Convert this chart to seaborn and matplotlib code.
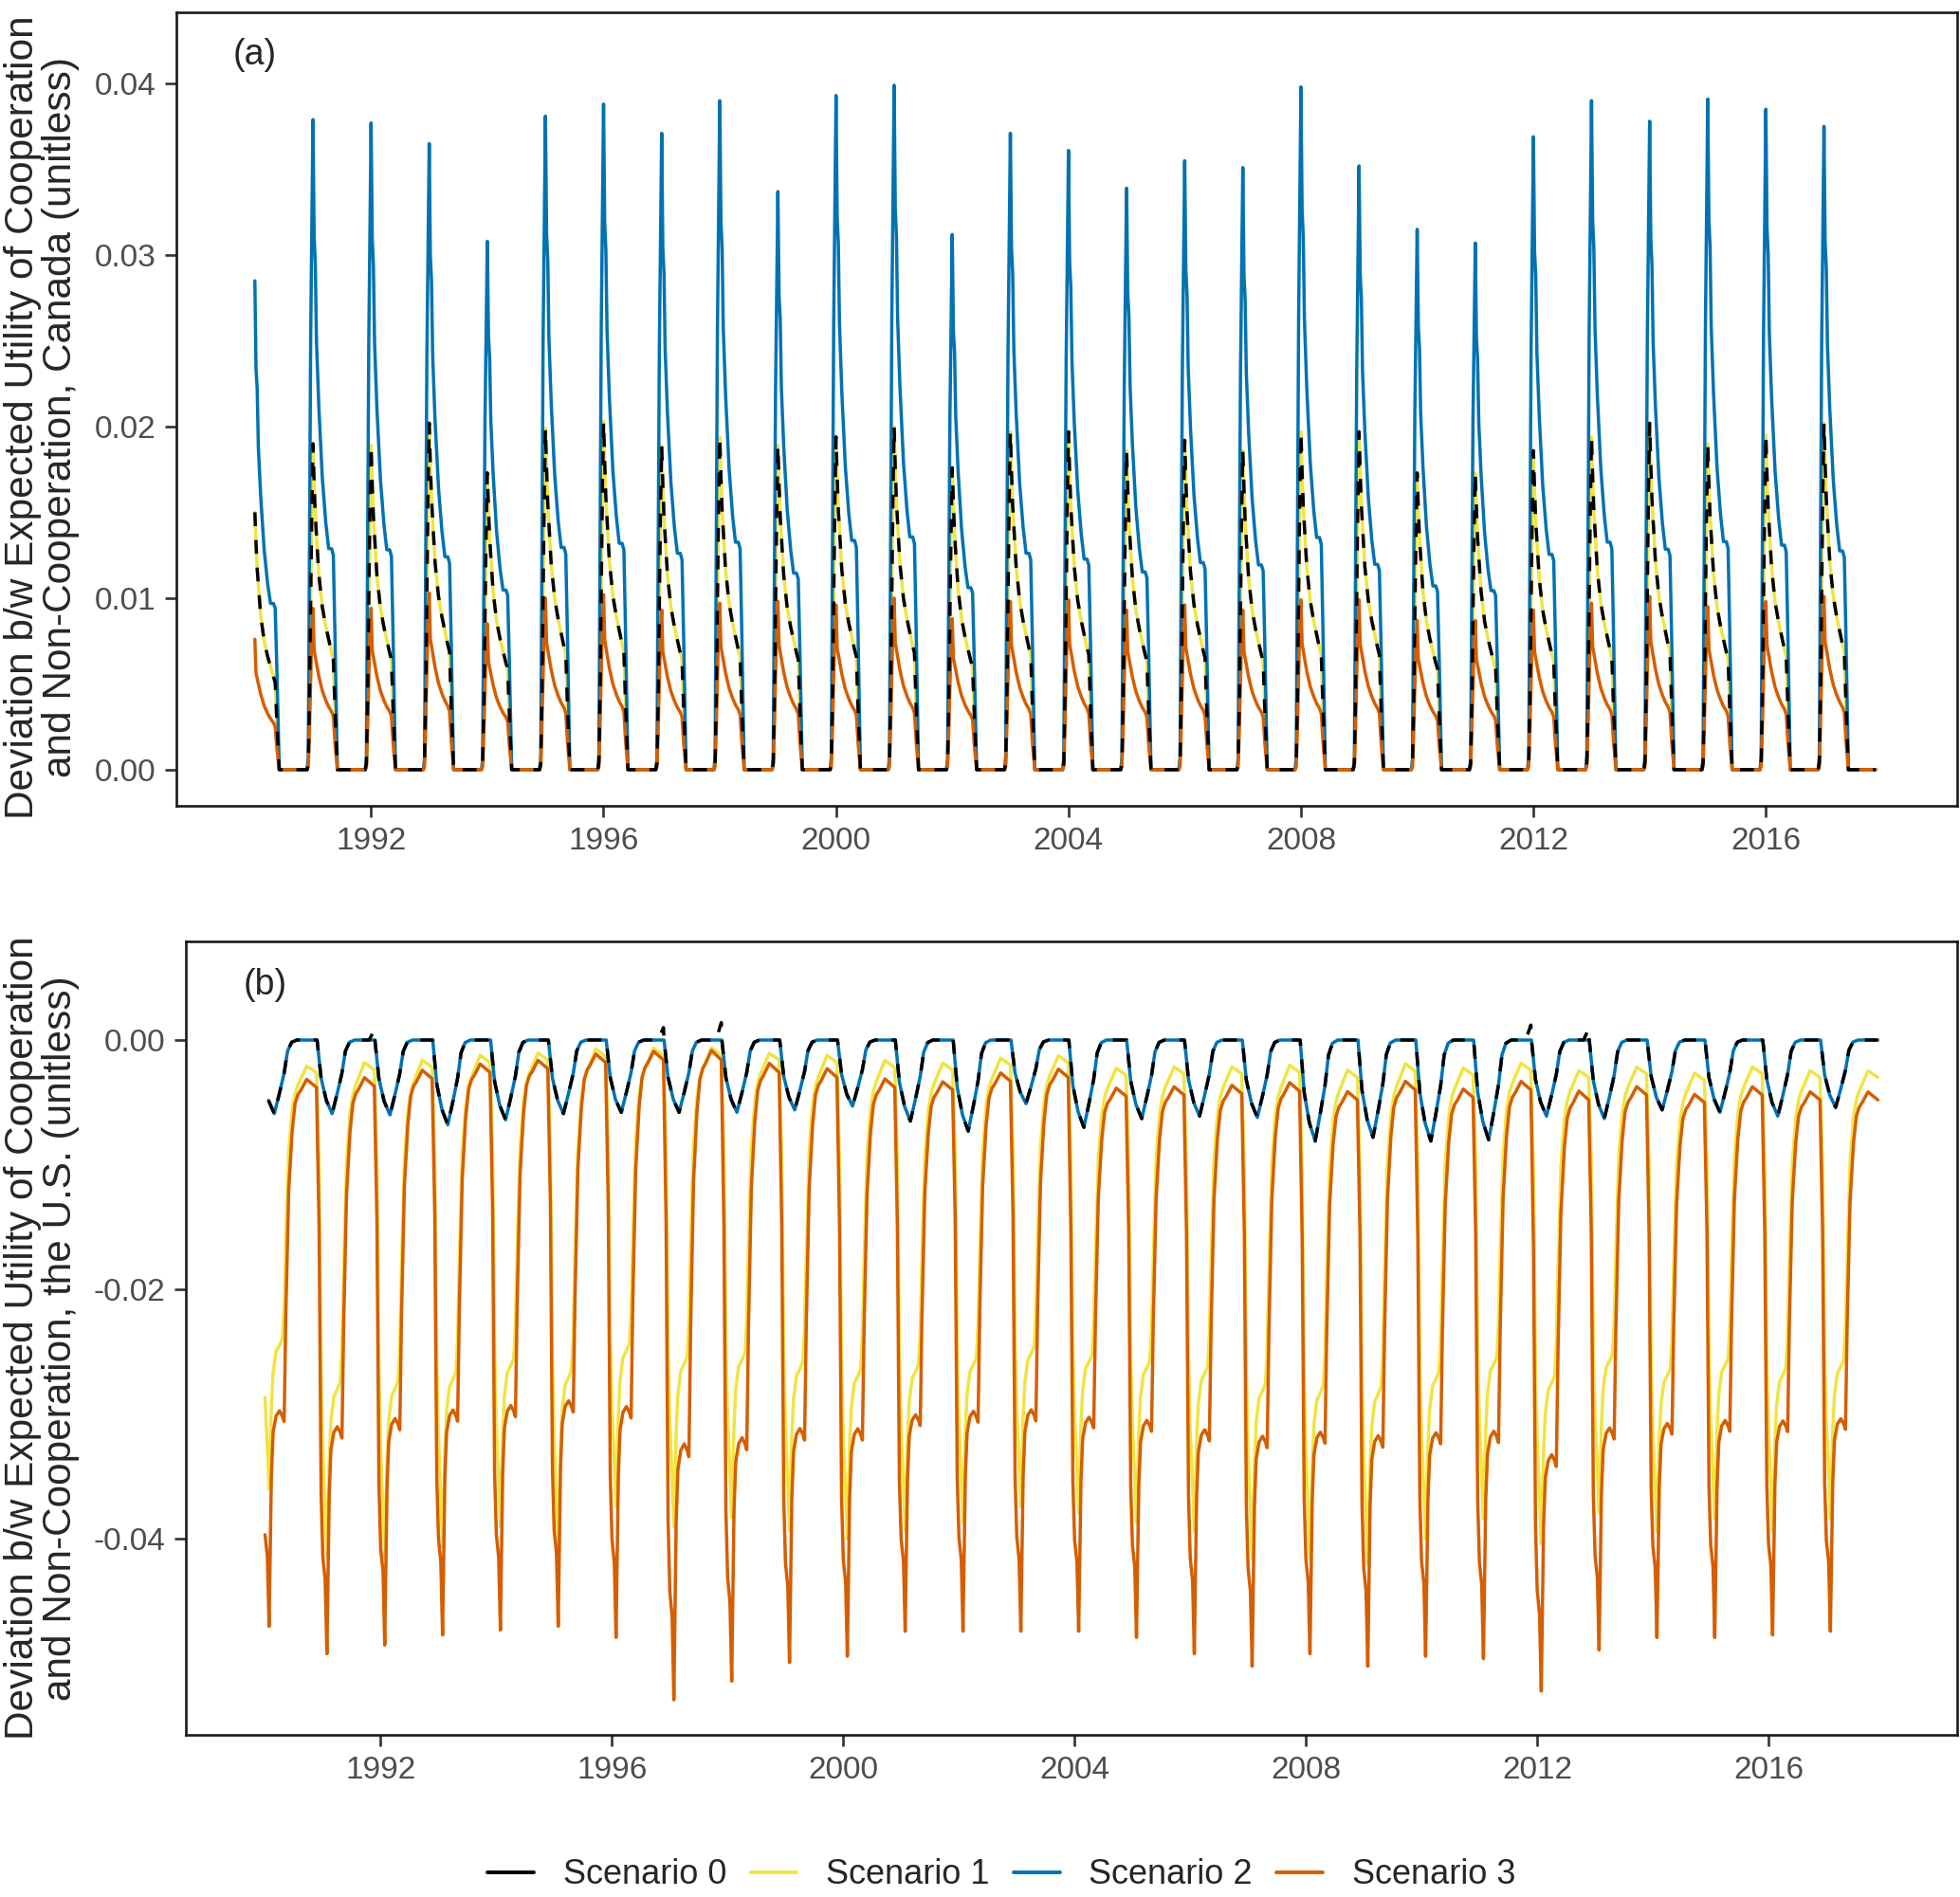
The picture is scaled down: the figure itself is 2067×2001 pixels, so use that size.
import pandas as pd
import seaborn as sns
import matplotlib.pyplot as plt
from matplotlib.lines import Line2D

# ---- data ----
years = list(range(1990, 2018))
t_start = 1990.0

# (a) Canada: height of the January spike in each year
can_peak_s2 = [0.0285, 0.0379, 0.0377, 0.0365, 0.0308, 0.0381, 0.0388, 0.0371, 0.0390, 0.0337,
               0.0393, 0.0399, 0.0312, 0.0371, 0.0361, 0.0339, 0.0355, 0.0351, 0.0398, 0.0352,
               0.0315, 0.0307, 0.0369, 0.0390, 0.0378, 0.0391, 0.0385, 0.0375]
can_peak_s1 = [0.0150, 0.0190, 0.0189, 0.0202, 0.0173, 0.0199, 0.0203, 0.0189, 0.0194, 0.0189,
               0.0194, 0.0200, 0.0176, 0.0197, 0.0197, 0.0186, 0.0192, 0.0186, 0.0197, 0.0197,
               0.0173, 0.0173, 0.0186, 0.0194, 0.0202, 0.0190, 0.0195, 0.0202]
can_peak_s0 = list(can_peak_s1)  # scenario 0 sits on top of scenario 1 here
can_peak_s3 = [0.0076, 0.0094, 0.0094, 0.0103, 0.0085, 0.0100, 0.0102, 0.0093, 0.0097, 0.0098,
               0.0096, 0.0100, 0.0088, 0.0098, 0.0099, 0.0093, 0.0096, 0.0093, 0.0099, 0.0099,
               0.0087, 0.0087, 0.0093, 0.0097, 0.0101, 0.0095, 0.0098, 0.0101]

# shape of one season (offset in years from 1 Jan, fraction of the peak)
can_off = [-0.10, -0.08, -0.06, -0.04, -0.02, 0.00, 0.02, 0.04, 0.06, 0.10, 0.16, 0.22,
           0.27, 0.32, 0.35, 0.38, 0.42, 0.89]
can_shape_s2 = [0, 0.02, 0.33, 0.66, 0.83, 1.0, 0.82, 0.78, 0.66, 0.56, 0.45, 0.38,
                0.34, 0.34, 0.33, 0.20, 0, 0]
can_shape_s1 = [0, 0.02, 0.22, 0.50, 0.80, 1.0, 0.88, 0.78, 0.72, 0.60, 0.50, 0.44,
                0.40, 0.36, 0.34, 0.18, 0, 0]
can_shape_s3 = [0, 0.02, 0.25, 0.55, 0.85, 1.0, 0.74, 0.70, 0.66, 0.58, 0.49, 0.43,
                0.39, 0.36, 0.33, 0.16, 0, 0]

# (b) the U.S.: winter dip of scenario 2 (scenario 0 follows it, plus small bumps)
usa_depth_s2 = [-0.0059, -0.0059, -0.0060, -0.0068, -0.0064, -0.0059, -0.0058, -0.0058, -0.0058, -0.0056,
                -0.0053, -0.0065, -0.0073, -0.0051, -0.0070, -0.0063, -0.0061, -0.0062, -0.0081, -0.0078,
                -0.0081, -0.0080, -0.0061, -0.0063, -0.0056, -0.0058, -0.0061, -0.0054]
usa_bump_s0 = [0, 0.0008, 0, 0, 0, 0, 0.0010, 0.0014, 0, 0,
               0, 0, 0, 0, 0, 0, 0, 0, 0, 0,
               0, 0.0012, 0.0009, 0, 0, 0, 0, 0]
usa_off_dip = [-0.10, -0.03, 0.06, 0.16, 0.25, 0.33, 0.39, 0.46, 0.55, 0.80, 0.89]
usa_shape_dip = [0, 0.52, 0.82, 1.0, 0.72, 0.45, 0.15, 0.03, 0, 0, 0]

# scenarios 1 and 3: summer plateau and winter trough of each year
usa_plateau_s1 = [-0.0026, -0.0024, -0.0022, -0.0018, -0.0016, -0.0013, -0.0012, -0.0012, -0.0016, -0.0018,
                  -0.0022, -0.0024, -0.0020, -0.0018, -0.0028, -0.0027, -0.0027, -0.0026, -0.0030, -0.0025,
                  -0.0028, -0.0024, -0.0030, -0.0027, -0.0032, -0.0027, -0.0030, -0.0030]
usa_trough_s1 = [-0.0360, -0.0415, -0.0415, -0.0406, -0.0390, -0.0406, -0.0374, -0.0390, -0.0383, -0.0393,
                 -0.0400, -0.0393, -0.0387, -0.0374, -0.0379, -0.0387, -0.0394, -0.0416, -0.0416, -0.0420,
                 -0.0400, -0.0384, -0.0404, -0.0379, -0.0394, -0.0384, -0.0394, -0.0384]
usa_plateau_s3 = [-0.0038, -0.0037, -0.0031, -0.0026, -0.0023, -0.0018, -0.0016, -0.0016, -0.0026, -0.0030,
                  -0.0038, -0.0040, -0.0033, -0.0030, -0.0045, -0.0044, -0.0043, -0.0041, -0.0048, -0.0040,
                  -0.0046, -0.0040, -0.0048, -0.0044, -0.0050, -0.0044, -0.0048, -0.0048]
usa_trough_s3 = [-0.0470, -0.0492, -0.0485, -0.0477, -0.0473, -0.0470, -0.0479, -0.0529, -0.0514, -0.0499,
                 -0.0494, -0.0474, -0.0474, -0.0474, -0.0474, -0.0479, -0.0492, -0.0502, -0.0492, -0.0502,
                 -0.0494, -0.0496, -0.0522, -0.0489, -0.0479, -0.0479, -0.0477, -0.0474]
usa_off_drop = [-0.065, -0.03, 0.00, 0.04, 0.07, 0.11, 0.14, 0.19, 0.25, 0.30,
                0.33, 0.36, 0.41, 0.47, 0.52, 0.57, 0.62, 0.72, 0.89]
usa_shape_s1 = [0.20, 0.62, 0.78, 0.90, 1.0, 0.80, 0.72, 0.67, 0.655, 0.64,
                0.57, 0.41, 0.19, 0.09, 0.05, 0.03, 0.015, -0.015, 0.0]
usa_shape_s3 = [0.25, 0.72, 0.83, 0.87, 1.0, 0.72, 0.64, 0.61, 0.60, 0.61,
                0.62, 0.42, 0.19, 0.08, 0.03, 0.013, 0.005, -0.015, 0.0]

scenarios = ["Scenario 0", "Scenario 1", "Scenario 2", "Scenario 3"]
colors = {"Scenario 0": "#000000", "Scenario 1": "#F0E442",
          "Scenario 2": "#0072B2", "Scenario 3": "#D55E00"}
draw_order = ["Scenario 1", "Scenario 2", "Scenario 3", "Scenario 0"]


def season_rows(offsets, shape, low, high=None, extra_last=None):
    rows = []
    for i, yr in enumerate(years):
        for j, (off, s) in enumerate(zip(offsets, shape)):
            t = yr + off
            if t < t_start:
                continue
            if high is None:
                v = low[i] * s
            else:
                v = low[i] + s * (high[i] - low[i])
            if extra_last is not None and j == len(offsets) - 1:
                v += extra_last[i]
            rows.append((t, v))
    return rows


def frame(panel, scen, rows):
    d = pd.DataFrame(rows, columns=["t", "value"])
    d["panel"] = panel
    d["scenario"] = scen
    return d


df = pd.concat([
    frame("a", "Scenario 0", season_rows(can_off, can_shape_s1, can_peak_s0)),
    frame("a", "Scenario 1", season_rows(can_off, can_shape_s1, can_peak_s1)),
    frame("a", "Scenario 2", season_rows(can_off, can_shape_s2, can_peak_s2)),
    frame("a", "Scenario 3", season_rows(can_off, can_shape_s3, can_peak_s3)),
    frame("b", "Scenario 0", season_rows(usa_off_dip, usa_shape_dip, usa_depth_s2, extra_last=usa_bump_s0)),
    frame("b", "Scenario 1", season_rows(usa_off_drop, usa_shape_s1, usa_plateau_s1, usa_trough_s1)),
    frame("b", "Scenario 2", season_rows(usa_off_dip, usa_shape_dip, usa_depth_s2)),
    frame("b", "Scenario 3", season_rows(usa_off_drop, usa_shape_s3, usa_plateau_s3, usa_trough_s3)),
], ignore_index=True)

# ---- style ----
sns.set_theme(style="ticks")
plt.rcParams["font.family"] = ["Liberation Sans", "DejaVu Sans"]
plt.rcParams["axes.unicode_minus"] = False

fig = plt.figure(figsize=(20.67, 20.01), dpi=100)
ax_a = fig.add_axes([0.0900, 0.5752, 0.9085, 0.4183])
ax_b = fig.add_axes([0.0948, 0.0855, 0.9037, 0.4182])

LW = 2.5
for ax, panel in [(ax_a, "a"), (ax_b, "b")]:
    for scen in draw_order:
        sub = df[(df["panel"] == panel) & (df["scenario"] == scen)]
        kw = {"linestyle": (0, (4.2, 4.2))} if scen == "Scenario 0" else {}
        sns.lineplot(data=sub, x="t", y="value", color=colors[scen], linewidth=LW,
                     estimator=None, sort=False, legend=False, ax=ax, **kw)
    ax.set_xlabel("")
    ax.set_ylabel("")
    ax.set_xticks([1992, 1996, 2000, 2004, 2008, 2012, 2016])
    ax.set_xticklabels(["1992", "1996", "2000", "2004", "2008", "2012", "2016"])
    ax.tick_params(axis="both", labelsize=24, labelcolor="#4D4D4D", color="#333333",
                   length=8.4, width=1.9, pad=7.2, direction="out")
    for sp in ax.spines.values():
        sp.set_visible(True)
        sp.set_color("#1A1A1A")
        sp.set_linewidth(1.9)
    ax.grid(False)

ax_a.set_xlim(1988.65, 2019.29)
ax_a.set_ylim(-0.00211, 0.04415)
ax_a.set_yticks([0.0, 0.01, 0.02, 0.03, 0.04])
ax_a.set_yticklabels(["0.00", "0.01", "0.02", "0.03", "0.04"])

ax_b.set_xlim(1988.63, 2019.26)
ax_b.set_ylim(-0.0557, 0.0079)
ax_b.set_yticks([-0.04, -0.02, 0.0])
ax_b.set_yticklabels(["-0.04", "-0.02", "0.00"])

ax_a.text(0.032, 0.946, "(a)", transform=ax_a.transAxes, fontsize=27, va="center", ha="left")
ax_b.text(0.0327, 0.945, "(b)", transform=ax_b.transAxes, fontsize=27, va="center", ha="left")

fig.text(0.0215, 0.7800,
         "Deviation b/w Expected Utility of Cooperation\nand Non-Cooperation, Canada (unitless)",
         rotation=90, ha="center", va="center", fontsize=30.5, linespacing=1.0,
         multialignment="center")
fig.text(0.0215, 0.2946,
         "Deviation b/w Expected Utility of Cooperation\nand Non-Cooperation, the U.S. (unitless)",
         rotation=90, ha="center", va="center", fontsize=30.5, linespacing=1.0,
         multialignment="center")

handles = [Line2D([0], [0], color=colors[s], linewidth=2.8) for s in scenarios]
fig.legend(handles, scenarios, loc="center", bbox_to_anchor=(0.511, 0.0115), ncol=4,
           frameon=False, fontsize=26, handlelength=1.35, handletextpad=0.85,
           columnspacing=0.7, borderaxespad=0)

fig.savefig("out.png", dpi=100)
